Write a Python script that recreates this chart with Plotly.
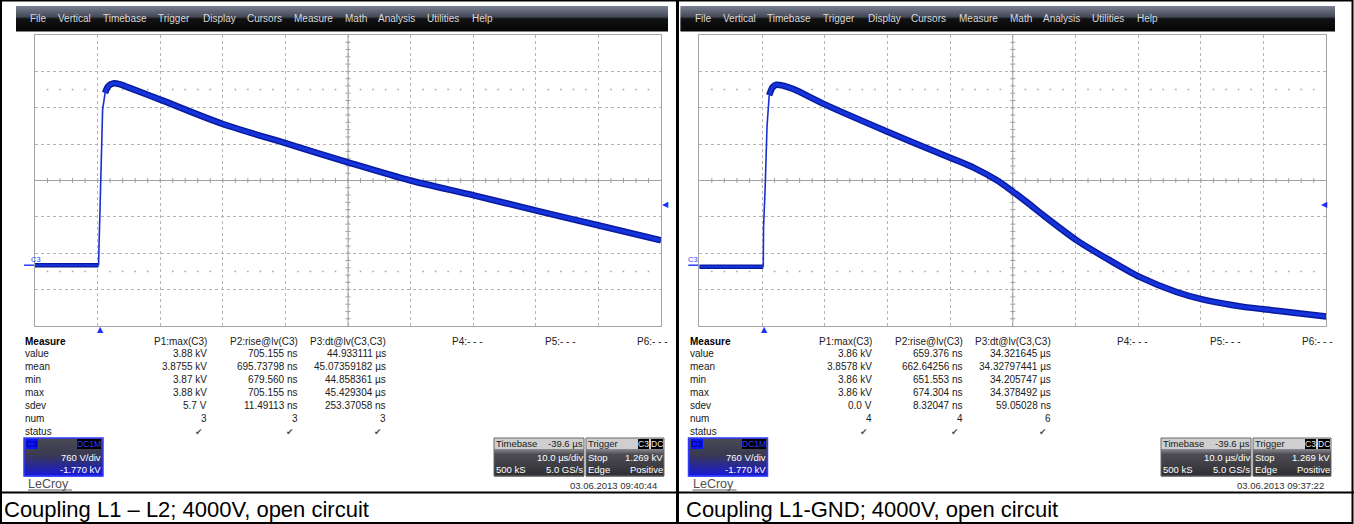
import plotly.graph_objects as go

W, H = 1354, 524
FONT = "Liberation Sans, Arial, sans-serif"

# ---- scope settings shared by both captures ----
T_LEFT, T_DIV, N_XDIV = -10.4, 10.0, 10      # µs at left edge, µs/div
V_CENTER, V_DIV, N_YDIV = 1.770, 0.760, 8    # kV at centre line, kV/div
TRIG_LEVEL = 1.269                           # kV

# ---- capture 1: coupling L1 – L2 (time in µs, voltage in kV) ----
a_base_t = [-10.4, -0.25]
a_base_v = [0.0, 0.0]
a_rise_t = [-0.25, -0.1, 0.15, 0.4, 0.8]
a_rise_v = [0.0, 0.7, 2.4, 3.25, 3.6]
a_tail_t = [0.8, 1.3, 2.1, 3.2, 4.8, 9.6, 19.6, 29.6, 39.6, 49.6, 59.7, 69.7, 79.7, 89.6]
a_tail_v = [3.60, 3.74, 3.80, 3.78, 3.70, 3.46, 2.95, 2.55, 2.15, 1.77, 1.46, 1.14, 0.83, 0.52]

# ---- capture 2: coupling L1-GND ----
b_base_t = [-10.4, -0.2]
b_base_v = [-0.03, -0.03]
b_rise_t = [-0.2, -0.15, 0.1, 0.4, 0.75]
b_rise_v = [-0.03, 0.8, 1.6, 2.9, 3.55]
b_tail_t = [0.75, 1.3, 1.9, 3.0, 4.6, 9.6, 19.6, 29.7, 33.5, 37.0, 39.5, 42.3, 44.5,
            49.8, 55.1, 59.9, 65.7, 70.0, 76.4, 81.7, 89.6]
b_tail_v = [3.55, 3.72, 3.77, 3.75, 3.68, 3.36, 2.79, 2.24, 2.03, 1.78, 1.55, 1.27, 1.04,
            0.52, 0.10, -0.25, -0.56, -0.72, -0.87, -0.95, -1.07]

# ---- measurement tables ----
row_names = ["value", "mean", "min", "max", "sdev", "num", "status"]
param_heads = ["P1:max(C3)", "P2:rise@lv(C3)", "P3:dt@lv(C3,C3)"]
empty_heads = ["P4:- - -", "P5:- - -", "P6:- - -"]
a_p1 = ["3.88 kV", "3.8755 kV", "3.87 kV", "3.88 kV", "5.7 V", "3", "✔"]
a_p2 = ["705.155 ns", "695.73798 ns", "679.560 ns", "705.155 ns", "11.49113 ns", "3", "✔"]
a_p3 = ["44.933111 µs", "45.07359182 µs", "44.858361 µs", "45.429304 µs", "253.37058 ns", "3", "✔"]
b_p1 = ["3.86 kV", "3.8578 kV", "3.86 kV", "3.86 kV", "0.0 V", "4", "✔"]
b_p2 = ["659.376 ns", "662.64256 ns", "651.553 ns", "674.304 ns", "8.32047 ns", "4", "✔"]
b_p3 = ["34.321645 µs", "34.32797441 µs", "34.205747 µs", "34.378492 µs", "59.05028 ns", "6", "✔"]

menu_items = ["File", "Vertical", "Timebase", "Trigger", "Display", "Cursors",
              "Measure", "Math", "Analysis", "Utilities", "Help"]
a_date = "03.06.2013 09:40:44"
b_date = "03.06.2013 09:37:22"
a_caption = "Coupling L1 – L2; 4000V, open circuit"
b_caption = "Coupling L1-GND; 4000V, open circuit"

# left edges of the menu entries on one screen (pixels)
MENU_X = [30, 58, 103, 158, 203, 247, 294, 345, 378, 427, 472]

shapes, annotations = [], []


def px(x):
    return x / W


def py(y):
    return 1 - y / H


def rect(x0, y0, x1, y1, fill=None, line=None, lw=1, layer="above"):
    shapes.append(dict(type="rect", xref="paper", yref="paper",
                       x0=px(x0), x1=px(x1), y0=py(y1), y1=py(y0), layer=layer,
                       fillcolor=fill or "rgba(0,0,0,0)",
                       line=dict(color=line or "rgba(0,0,0,0)", width=lw if line else 0)))


def seg(x0, y0, x1, y1, color, lw=1):
    shapes.append(dict(type="line", xref="paper", yref="paper",
                       x0=px(x0), x1=px(x1), y0=py(y0), y1=py(y1),
                       line=dict(color=color, width=lw), layer="above"))


def _rgb(h):
    h = h.lstrip("#")
    return [int(h[i:i + 2], 16) for i in (0, 2, 4)]


def _mix(stops, f):
    for (f0, c0), (f1, c1) in zip(stops, stops[1:]):
        if f <= f1:
            u = 0 if f1 == f0 else (f - f0) / (f1 - f0)
            a, b = _rgb(c0), _rgb(c1)
            return "rgb(%d,%d,%d)" % tuple(round(a[i] + (b[i] - a[i]) * u) for i in range(3))
    return stops[-1][1]


def vgrad(x0, y0, x1, y1, stops):
    n = max(int(round(y1 - y0)), 1)
    for i in range(n):
        ya = y0 + (y1 - y0) * i / n
        yb = y0 + (y1 - y0) * (i + 1) / n
        rect(x0, ya, x1, yb + 0.4, fill=_mix(stops, (i + 0.5) / n))


def text(x, y, s, size=10, color="#000000", xa="left", ya="middle", bg=None, family=FONT):
    annotations.append(dict(xref="paper", yref="paper", x=px(x), y=py(y), text=s,
                            showarrow=False, xanchor=xa, yanchor=ya, borderpad=0,
                            borderwidth=0, bgcolor=bg or "rgba(0,0,0,0)",
                            font=dict(size=size, color=color, family=family)))


def draw_panel(ox, bx, p1, p2, p3, date):
    # menu bar
    vgrad(16 + ox, 6, 668 + bx, 31,
          [(0, "#7a8192"), (0.42, "#454a57"), (0.52, "#111214"), (1, "#050505")])
    for name, mx in zip(menu_items, MENU_X):
        text(mx + ox, 18.5, name, size=10, color="#d9d9d9")

    # measurement table
    row_y0, row_dy = 353, 13.1
    text(25 + ox, 341, "<b>Measure</b>", size=10)
    for i, name in enumerate(row_names):
        text(25 + ox, row_y0 + i * row_dy, name, size=10, color="#202020")
    for head, col, right in zip(param_heads, (p1, p2, p3), (207, 298, 386)):
        text(right + ox, 341, head, size=10, xa="right", color="#202020")
        for i, val in enumerate(col):
            if val == "✔":
                text(right - 4 + ox, row_y0 + i * row_dy, val, size=9, xa="right",
                     color="#505050", family="DejaVu Sans")
            else:
                text(right + ox, row_y0 + i * row_dy, val, size=10, xa="right", color="#202020")
    for head, left in zip(empty_heads, (452, 545, 637)):
        text(left + ox, 341, head, size=10, color="#202020")

    # channel descriptor
    vgrad(24 + ox, 438, 103 + ox, 476,
          [(0, "#4a4a55"), (0.45, "#3a3a52"), (1, "#1818d8")])
    rect(24 + ox, 438, 103 + ox, 476, line="#2f3cff", lw=1.5)
    text(26 + ox, 444, "C3", size=9, color="#000066", bg="#0a14ff")
    text(101 + ox, 444, "DC1M", size=8.5, color="#2a3cff", xa="right", bg="#000000")
    text(101 + ox, 457, "760 V/div", size=9.5, color="#ffffff", xa="right")
    text(101 + ox, 469.5, "-1.770 kV", size=9.5, color="#ffffff", xa="right")
    text(28 + ox, 483.5, "LeCroy", size=12.5, color="#505050")
    seg(28 + ox, 490, 72 + ox, 490, "#606060", 1)

    # timebase descriptor
    x0, x1 = 494 + bx, 584 + bx
    rect(x0, 438, x1, 449, fill="#cfcfcf")
    vgrad(x0, 449, x1, 476, [(0, "#8a8a90"), (0.2, "#4c4c52"), (1, "#2e2e33")])
    rect(x0, 438, x1, 476, line="#6a6a6a", lw=1)
    text(x0 + 2, 443.5, "Timebase", size=9.5, color="#1a1a1a")
    text(x1 - 1, 443.5, "-39.6 µs", size=9.5, color="#1a1a1a", xa="right")
    text(x1 - 1, 457, "10.0 µs/div", size=9.5, color="#ffffff", xa="right")
    text(x0 + 2, 469.5, "500 kS", size=9.5, color="#ffffff")
    text(x1 - 1, 469.5, "5.0 GS/s", size=9.5, color="#ffffff", xa="right")

    # trigger descriptor
    x0, x1 = 586 + bx, 664 + bx
    rect(x0, 438, x1, 449, fill="#cfcfcf")
    vgrad(x0, 449, x1, 476, [(0, "#8a8a90"), (0.2, "#4c4c52"), (1, "#2e2e33")])
    rect(x0, 438, x1, 476, line="#6a6a6a", lw=1)
    text(x0 + 2, 443.5, "Trigger", size=9.5, color="#1a1a1a")
    text(x1 - 15, 443.5, "C3", size=8.5, color="#e8e8e8", xa="right", bg="#000000")
    text(x1 - 1, 443.5, "DC", size=8.5, color="#e8e8e8", xa="right", bg="#000000")
    text(x0 + 2, 457, "Stop", size=9.5, color="#ffffff")
    text(x1 - 1, 457, "1.269 kV", size=9.5, color="#ffffff", xa="right")
    text(x0 + 2, 469.5, "Edge", size=9.5, color="#ffffff")
    text(x1 - 1, 469.5, "Positive", size=9.5, color="#ffffff", xa="right")

    text(x1 - 7, 485, date, size=9.5, color="#303030", xa="right")


draw_panel(0, 0, a_p1, a_p2, a_p3, a_date)
draw_panel(664.5, 667, b_p1, b_p2, b_p3, b_date)

# graticule extents (pixels) for the two screens
GRIDS = [(35, 661), (699.3, 1326.3)]
G_TOP, G_BOT = 35, 326

fig = go.Figure()
T_RIGHT = T_LEFT + N_XDIV * T_DIV
V_BOT = V_CENTER - N_YDIV / 2 * V_DIV
V_TOP = V_CENTER + N_YDIV / 2 * V_DIV
T_MID = T_LEFT + N_XDIV / 2 * T_DIV

captures = [(a_base_t, a_base_v, a_rise_t, a_rise_v, a_tail_t, a_tail_v),
            (b_base_t, b_base_v, b_rise_t, b_rise_v, b_tail_t, b_tail_v)]

layout_axes = {}
for k, ((gx0, gx1), cap) in enumerate(zip(GRIDS, captures), start=1):
    xa, ya = ("x", "y") if k == 1 else ("x%d" % k, "y%d" % k)
    bt, bv, rt, rv, tt, tv = cap
    common = dict(xaxis=xa, yaxis=ya, hoverinfo="skip", showlegend=False)
    # marker rows at +/- 2.5 div
    dots_t = [T_LEFT + j * T_DIV / 5 for j in range(N_XDIV * 5 + 1) if j % 5]
    for lvl in (V_CENTER + 2.5 * V_DIV, V_CENTER - 2.5 * V_DIV):
        fig.add_trace(go.Scatter(x=dots_t, y=[lvl] * len(dots_t), mode="markers",
                                 marker=dict(symbol="square", size=1.6, color="#a8a8a8",
                                             line=dict(width=0)), **common))
    fig.add_trace(go.Scatter(x=bt, y=bv, mode="lines",
                             line=dict(color="#0a1a9e", width=4.5), **common))
    fig.add_trace(go.Scatter(x=bt, y=bv, mode="lines",
                             line=dict(color="#1634dc", width=2), **common))
    fig.add_trace(go.Scatter(x=rt, y=rv, mode="lines",
                             line=dict(color="#1830d0", width=1.6), **common))
    fig.add_trace(go.Scatter(x=tt, y=tv, mode="lines", line_shape="spline",
                             line=dict(color="#0a1a9e", width=6.5, smoothing=0.8), **common))
    fig.add_trace(go.Scatter(x=tt, y=tv, mode="lines", line_shape="spline",
                             line=dict(color="#1634dc", width=3.5, smoothing=0.8), **common))

    axkw = dict(showticklabels=False, ticks="", zeroline=False, showline=True, mirror=True,
                linecolor="#a4a4a4", linewidth=1, showgrid=True, gridcolor="#b4b4b4",
                gridwidth=1, griddash="dot", fixedrange=True)
    layout_axes["xaxis" if k == 1 else "xaxis%d" % k] = dict(
        domain=[px(gx0), px(gx1)], range=[T_LEFT, T_RIGHT], tick0=T_LEFT, dtick=T_DIV,
        anchor=ya, **axkw)
    layout_axes["yaxis" if k == 1 else "yaxis%d" % k] = dict(
        domain=[py(G_BOT), py(G_TOP)], range=[V_BOT, V_TOP], tick0=V_CENTER, dtick=V_DIV,
        anchor=xa, **axkw)

    # solid centre cross with fine ticks
    shapes.append(dict(type="line", xref=xa, yref=ya, x0=T_LEFT, x1=T_RIGHT, y0=V_CENTER,
                       y1=V_CENTER, line=dict(color="#a0a0a0", width=1), layer="between"))
    shapes.append(dict(type="line", xref=xa, yref=ya, x0=T_MID, x1=T_MID, y0=V_BOT,
                       y1=V_TOP, line=dict(color="#a0a0a0", width=1), layer="between"))
    for j in range(1, N_XDIV * 5):
        shapes.append(dict(type="line", xref=xa, yref=ya, ysizemode="pixel", yanchor=V_CENTER,
                           x0=T_LEFT + j * T_DIV / 5, x1=T_LEFT + j * T_DIV / 5, y0=-2.5, y1=2.5,
                           line=dict(color="#a0a0a0", width=1), layer="between"))
    for j in range(1, N_YDIV * 5):
        shapes.append(dict(type="line", xref=xa, yref=ya, xsizemode="pixel", xanchor=T_MID,
                           y0=V_BOT + j * V_DIV / 5, y1=V_BOT + j * V_DIV / 5, x0=-2.5, x1=2.5,
                           line=dict(color="#a0a0a0", width=1), layer="between"))

    # trigger position, trigger level and ground markers
    annotations.append(dict(xref=xa, yref="paper", x=0, y=py(329), text="▲", showarrow=False,
                            font=dict(size=8, color="#1a2cff", family="DejaVu Sans")))
    annotations.append(dict(xref="paper", yref=ya, x=px(gx1 + 4), y=TRIG_LEVEL, text="◀",
                            showarrow=False, font=dict(size=8, color="#1a2cff",
                                                       family="DejaVu Sans")))
    annotations.append(dict(xref="paper", yref=ya, x=px(gx0 - 6), y=0, yshift=6, text="C3",
                            showarrow=False, font=dict(size=7.5, color="#2a3cff", family=FONT)))
    shapes.append(dict(type="line", xref="paper", yref=ya, x0=px(gx0 - 11), x1=px(gx0 - 1),
                       y0=0, y1=0, line=dict(color="#2a3cff", width=1.5)))

# outer frame and caption strip
rect(1, 0.5, 1352.5, 523, line="#000000", lw=2)
seg(677.5, 0, 677.5, 524, "#000000", 3)
seg(0, 492.5, 1354, 492.5, "#000000", 2)
text(4, 509, a_caption, size=22, color="#000000")
text(686, 509, b_caption, size=22, color="#000000")

fig.update_layout(width=W, height=H, margin=dict(l=0, r=0, t=0, b=0),
                  paper_bgcolor="#ffffff", plot_bgcolor="#ffffff", showlegend=False,
                  shapes=shapes, annotations=annotations, **layout_axes)

fig.write_html("out.html")
